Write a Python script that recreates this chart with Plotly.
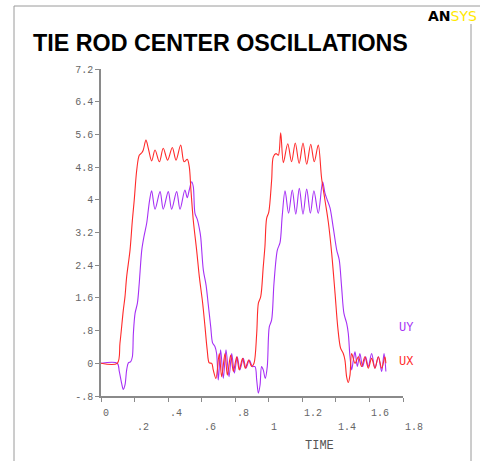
import plotly.graph_objects as go

# ---------------- data ----------------
ux_t = [0, 0.097, 0.113, 0.133, 0.143, 0.153, 0.173, 0.187, 0.198, 0.213, 0.228, 0.243, 0.252, 0.268,
        0.282, 0.302, 0.322, 0.348, 0.371, 0.397, 0.425, 0.447, 0.475, 0.495, 0.514, 0.526, 0.536,
        0.550, 0.570, 0.586, 0.606, 0.620, 0.633, 0.645, 0.660, 0.669, 0.685, 0.705, 0.719, 0.739,
        0.753, 0.773, 0.789, 0.809, 0.824, 0.844, 0.860, 0.880, 0.898, 0.912, 0.928, 0.938, 0.952,
        0.967, 0.977, 0.987, 1.000, 1.017, 1.027, 1.043, 1.057, 1.071, 1.087, 1.113, 1.136, 1.158,
        1.181, 1.204, 1.226, 1.250, 1.271, 1.295, 1.315, 1.335, 1.355, 1.375, 1.395, 1.411, 1.428,
        1.444, 1.454, 1.464, 1.474, 1.484, 1.494, 1.514, 1.534, 1.553, 1.573, 1.593, 1.613, 1.633,
        1.653, 1.673, 1.692, 1.698]
ux_v = [0, 0, 0.49, 1.30, 1.63, 2.12, 2.77, 3.50, 3.99, 4.73, 5.09, 5.15, 5.22, 5.46,
        5.26, 4.95, 5.22, 4.93, 5.26, 4.97, 5.28, 4.97, 5.34, 4.93, 4.99, 4.81, 4.24,
        3.50, 2.77, 2.12, 1.47, 0.89, 0.33, 0.01, 0.0, -0.16, -0.37, 0.24, -0.33, 0.24,
        -0.29, 0.20, -0.20, 0.16, -0.16, 0.12, -0.12, 0.08, -0.08, 0.0, 0.73, 1.47, 1.63,
        2.36, 2.85, 3.54, 3.70, 4.48, 5.05, 5.13, 5.09, 5.64, 4.91, 5.37, 4.93, 5.39,
        4.89, 5.39, 4.87, 5.36, 4.93, 5.34, 4.52, 3.99, 3.45, 2.69, 1.71, 0.89, 0.37,
        0.24, 0.08, -0.33, -0.47, -0.29, 0.24, 0.0, 0.16, -0.08, 0.16, -0.12, 0.12, -0.12,
        0.16, -0.12, 0.16, 0.0]

uy_t = [0, 0.097, 0.109, 0.123, 0.133, 0.143, 0.153, 0.163, 0.177, 0.187, 0.193, 0.203, 0.217,
        0.228, 0.243, 0.256, 0.272, 0.282, 0.290, 0.302, 0.322, 0.352, 0.371, 0.401, 0.421, 0.451,
        0.471, 0.500, 0.514, 0.526, 0.540, 0.550, 0.560, 0.574, 0.586, 0.594, 0.610, 0.626, 0.639,
        0.654, 0.665, 0.679, 0.689, 0.699, 0.713, 0.729, 0.745, 0.763, 0.779, 0.795, 0.812, 0.828,
        0.848, 0.864, 0.884, 0.902, 0.918, 0.928, 0.938, 0.948, 0.957, 0.967, 0.979, 0.991, 1.003,
        1.017, 1.031, 1.051, 1.067, 1.080, 1.097, 1.118, 1.140, 1.161, 1.182, 1.204, 1.226, 1.248,
        1.269, 1.295, 1.321, 1.335, 1.349, 1.365, 1.385, 1.405, 1.420, 1.434, 1.448, 1.464, 1.474,
        1.484, 1.494, 1.504, 1.514, 1.528, 1.543, 1.559, 1.577, 1.593, 1.613, 1.633, 1.653, 1.673,
        1.687, 1.698]
uy_v = [0, 0, -0.20, -0.49, -0.64, -0.53, -0.16, 0.01, 0.04, 0.16, 0.73, 1.22, 1.47,
        1.96, 2.77, 3.10, 3.42, 3.75, 4.00, 4.22, 3.77, 4.20, 3.77, 4.20, 3.77, 4.20,
        3.77, 4.24, 4.05, 4.24, 4.44, 4.32, 3.67, 3.52, 3.30, 3.10, 2.28, 1.92, 1.45,
        0.89, 0.50, 0.41, 0.24, -0.41, 0.33, -0.37, 0.33, -0.33, 0.24, -0.24, 0.16, -0.16,
        0.12, -0.12, 0.08, -0.08, -0.08, -0.41, -0.73, -0.53, -0.08, -0.16, -0.37, -0.08, 0.89,
        1.06, 1.96, 2.77, 2.95, 3.60, 4.22, 3.67, 4.24, 3.65, 4.28, 3.65, 4.26, 3.67,
        4.22, 3.67, 4.44, 4.16, 3.99, 3.80, 3.30, 2.77, 2.53, 1.87, 1.22, 0.98, 0.73,
        0.16, -0.16, 0.08, 0.28, -0.08, 0.24, -0.08, 0.16, -0.08, 0.24, -0.12, 0.16, -0.20,
        0.24, -0.20]

x_ticks = [0, 0.2, 0.4, 0.6, 0.8, 1.0, 1.2, 1.4, 1.6, 1.8]
x_tick_text = ["0", ".2", ".4", ".6", ".8", "1", "1.2", "1.4", "1.6", "1.8"]
y_ticks = [-0.8, 0, 0.8, 1.6, 2.4, 3.2, 4.0, 4.8, 5.6, 6.4, 7.2]
y_tick_text = ["-.8", "0", ".8", "1.6", "2.4", "3.2", "4", "4.8", "5.6", "6.4", "7.2"]

series_names = ["UY", "UX"]
title_text = "TIE ROD CENTER OSCILLATIONS"
x_title = "TIME"

RED = "#FF2A2A"
PURPLE = "#A630F5"
MONO = "Liberation Mono, Courier New, monospace"

# ---------------- figure ----------------
W, H = 480, 461
L, R, T, B = 101, 77, 69, 65
pw, ph = W - L - R, H - T - B

def px_x(px):
    return (px - L) / pw

def px_y(py):
    return (H - B - py) / ph

fig = go.Figure()
fig.add_trace(go.Scatter(x=uy_t, y=uy_v, mode="lines", name="UY",
                         line=dict(color=PURPLE, width=1.1, shape="spline", smoothing=0.9)))
fig.add_trace(go.Scatter(x=ux_t, y=ux_v, mode="lines", name="UX",
                         line=dict(color=RED, width=1.1, shape="spline", smoothing=0.9)))

annotations = []
# x tick labels, alternating rows, left-aligned at tick
for i, (v, t) in enumerate(zip(x_ticks, x_tick_text)):
    row_py = 413 if i % 2 == 0 else 427
    annotations.append(dict(x=v, y=px_y(row_py), xref="x", yref="paper", text=t,
                            showarrow=False, xanchor="left", yanchor="middle",
                            font=dict(family=MONO, size=10, color="#666666")))
# axis title
annotations.append(dict(x=px_x(319), y=px_y(446), xref="paper", yref="paper", text=x_title,
                        showarrow=False, xanchor="center", yanchor="middle",
                        font=dict(family=MONO, size=12, color="#555555")))
# series labels
annotations.append(dict(x=1.764, y=0.86, xref="x", yref="y", text=series_names[0],
                        showarrow=False, xanchor="left", yanchor="middle",
                        font=dict(family=MONO, size=12, color=PURPLE)))
annotations.append(dict(x=1.764, y=0.04, xref="x", yref="y", text=series_names[1],
                        showarrow=False, xanchor="left", yanchor="middle",
                        font=dict(family=MONO, size=12, color=RED)))
# ANSYS logo
annotations.append(dict(x=px_x(426), y=px_y(16), xref="paper", yref="paper",
                        text="<b>AN</b><span style='color:#FFE800'>SYS</span>",
                        showarrow=False, xanchor="left", yanchor="middle",
                        font=dict(family="DejaVu Sans", size=14, color="#000000")))

shapes = [
    dict(type="line", xref="paper", yref="paper", x0=px_x(14), x1=px_x(480), y0=px_y(6), y1=px_y(6),
         line=dict(color="#9a9a9a", width=1)),
    dict(type="line", xref="paper", yref="paper", x0=px_x(14), x1=px_x(14), y0=px_y(6), y1=px_y(461),
         line=dict(color="#9a9a9a", width=1)),
    dict(type="line", xref="paper", yref="paper", x0=px_x(471), x1=px_x(471), y0=px_y(24), y1=px_y(461),
         line=dict(color="#9a9a9a", width=1)),
]

fig.update_layout(
    width=W, height=H,
    margin=dict(l=L, r=R, t=T, b=B),
    paper_bgcolor="white", plot_bgcolor="white",
    showlegend=False,
    title=dict(text="<b>" + title_text + "</b>", x=33 / W, xanchor="left", xref="container",
               y=1 - 43 / H, yanchor="middle", yref="container",
               font=dict(family="Liberation Sans, Arial", size=23.3, color="#000000")),
    xaxis=dict(range=[0, 1.8], showgrid=False, zeroline=False, showline=True,
               linecolor="#8a8a8a", linewidth=1.5, ticks="outside", ticklen=4,
               tickcolor="#8a8a8a", tickvals=x_ticks, showticklabels=False),
    yaxis=dict(range=[-0.8, 7.2], showgrid=False, zeroline=False, showline=True,
               linecolor="#8a8a8a", linewidth=1.5, ticks="outside", ticklen=4,
               tickcolor="#8a8a8a", tickvals=y_ticks, ticktext=y_tick_text,
               tickfont=dict(family=MONO, size=10, color="#666666")),
    annotations=annotations,
    shapes=shapes,
)

fig.write_html("out.html", config={"displayModeBar": False},
               post_script="document.body.style.margin='0';document.body.style.overflow='hidden';")
